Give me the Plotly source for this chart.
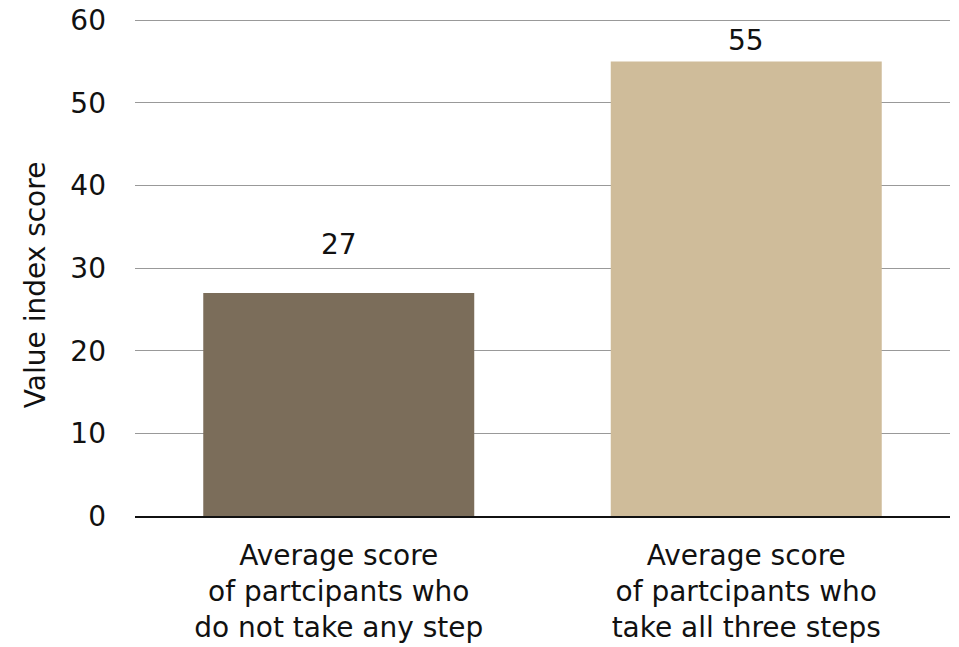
import plotly.graph_objects as go

categories = [
    "Average score<br>of partcipants who<br>do not take any step",
    "Average score<br>of partcipants who<br>take all three steps",
]
values = [27, 55]
y_ticks = [0, 10, 20, 30, 40, 50, 60]
y_title = "Value index score"
bar_colors = ["#7b6d5a", "#cfbc9a"]
label_shift = [48, 21]

FONT = "DejaVu Sans"
SIZE = 28
fig = go.Figure()
fig.add_trace(go.Bar(x=categories, y=values, marker=dict(color=bar_colors, line=dict(width=0)),
                     width=0.665))
for c, v, s in zip(categories, values, label_shift):
    fig.add_annotation(x=c, y=v, text=str(v), showarrow=False, yshift=s,
                       font=dict(family=FONT, size=SIZE, color="#111"))
fig.add_annotation(xref="paper", yref="paper", x=-0.1227, y=0.46, text=y_title,
                   textangle=-90, showarrow=False, xanchor="center", yanchor="middle",
                   font=dict(family=FONT, size=SIZE, color="#111"))

fig.update_layout(
    width=959, height=647,
    margin=dict(l=135, r=9, t=12, b=131),
    paper_bgcolor="white", plot_bgcolor="white",
    showlegend=False,
    font=dict(family=FONT, size=SIZE, color="#111"),
)
fig.update_xaxes(showline=True, linecolor="#111", linewidth=2, ticks="", automargin=False,
                 tickfont=dict(size=SIZE), ticklabelstandoff=13)
fig.update_yaxes(range=[0, 61], tickvals=y_ticks, showgrid=True,
                 gridcolor="#999", gridwidth=1, ticklabeloverflow="allow",
                 zeroline=False, ticks="", ticklabelstandoff=28, automargin=False)
fig.write_html("out.html")
